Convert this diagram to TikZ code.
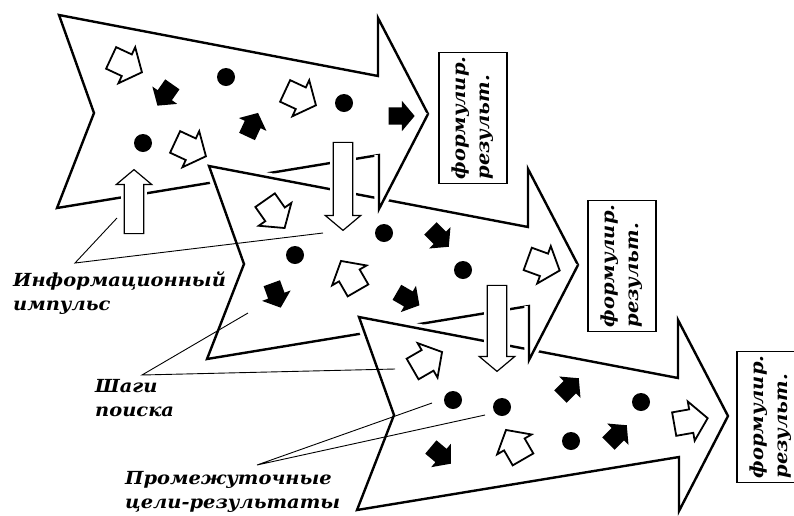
\documentclass[tikz,border=0pt]{standalone}
\usepackage{fontspec}
\setmainfont{DejaVu Serif}[FakeStretch=1.08]
\usetikzlibrary{shapes,arrows}

\tikzset{
  bigarrow/.style={draw=white, double=black, double distance=2.4pt, line width=3.5pt, fill=white},
  headedge/.style={draw=white, double=black, double distance=2.4pt, line width=3.5pt},
  flow/.pic={\draw[bigarrow] (59,15) -- (378,76) -- (378,18) -- (428,114) -- (379,209) -- (379,155) -- (57,208) -- (94,113) -- cycle;},
  stepw/.style={single arrow, draw, line width=1.8pt, fill=white, inner xsep=0pt, inner ysep=11pt, minimum height=34pt, single arrow head extend=8pt, single arrow tip angle=100},
  stepb/.style={single arrow, fill=black, inner xsep=0pt, inner ysep=8.5pt, minimum height=26pt, single arrow head extend=6.5pt, single arrow tip angle=100},
  goal/.style={circle, fill=black, inner sep=0pt, minimum size=18pt},
  impulse/.style={single arrow, draw=white, double=black, double distance=1.2pt, line width=2.5pt, fill=white, inner xsep=0pt, inner ysep=8.5pt, single arrow head extend=8pt, single arrow tip angle=100},
  result/.style={draw, line width=1.2pt, fill=white, rotate=90, align=left, minimum width=130pt, minimum height=68pt, inner sep=4pt, font=\fontsize{18}{24}\selectfont\bfseries\itshape},
  caption/.style={align=left, inner sep=0pt, anchor=north west, font=\fontsize{18}{24}\selectfont\bfseries\itshape},
  pointer/.style={line width=0.9pt}
}

\begin{document}
\begin{tikzpicture}[x=1pt, y=-1pt]
\useasboundingbox (0,0) rectangle (794,515);

\pic at (0,0) {flow};
\pic at (150,151) {flow};
\pic at (300,302) {flow};

\draw[headedge] (379,155) -- (379,209) -- (428,114);
\draw[headedge, shift={(150,151)}] (379,155) -- (379,209) -- (428,114);

\node[stepw, rotate=-25] (w1) at (122,63) {};
\node[stepb, rotate=-125] (b1) at (167,92) {};
\node[goal] (d1) at (226,77) {};
\node[stepw, rotate=-25] (w2) at (296,96) {};
\node[goal] (d2) at (344,103) {};
\node[stepb] (b2) at (398,116) {};
\node[goal] (d3) at (143,143) {};
\node[stepw, rotate=-25] (w3) at (186,147) {};
\node[stepb, rotate=65] (b3) at (251,128) {};

\node[stepw, rotate=-55] (w4) at (272,210) {};
\node[goal] (d4) at (295,255) {};
\node[goal] (d5) at (384,233) {};
\node[stepb, rotate=-45] (b4) at (437,235) {};
\node[goal] (d6) at (463,270) {};
\node[stepw, rotate=-20] (w5) at (539,263) {};
\node[stepw, rotate=120] (w6) at (352,280) {};
\node[stepb, rotate=-70] (b5) at (275,292) {};
\node[stepb, rotate=-30] (b6) at (405,297) {};

\node[stepw, rotate=30] (w7) at (423,363) {};
\node[goal] (d7) at (453,400) {};
\node[goal] (d8) at (502,407) {};
\node[stepb, rotate=45] (b7) at (567,390) {};
\node[goal] (d9) at (641,402) {};
\node[stepw, rotate=10] (w8) at (686,422) {};
\node[stepb, rotate=-40] (b8) at (438,453) {};
\node[stepw, rotate=120] (w9) at (517,449) {};
\node[goal] (d10) at (571,441) {};
\node[stepb, rotate=45] (b9) at (615,437) {};

\node[impulse, minimum height=64pt, rotate=90, anchor=tip] (Up) at (134,168) {};
\node[impulse, minimum height=88pt, rotate=-90, anchor=tip] (DownA) at (343,232) {};
\node[impulse, minimum height=86pt, rotate=-90, anchor=tip] (DownB) at (497,373) {};

\node[result] (ResA) at (473,118) {формулир.\\результ.};
\node[result] (ResB) at (622,266) {формулир.\\результ.};
\node[result] (ResC) at (771,417) {формулир.\\результ.};

\node[caption] (InfoLabel) at (13,272) {Информационный\\импульс};
\node[caption] (StepLabel) at (95,379) {Шаги\\поиска};
\node[caption] (GoalLabel) at (125,471) {Промежуточные\\цели-результаты};

\coordinate (InfoTip) at (75,263);
\coordinate (InfoEndA) at (117,218);
\coordinate (InfoEndB) at (323,233);
\coordinate (StepTip) at (142,375);
\coordinate (StepEndA) at (248,313);
\coordinate (StepEndB) at (395,369);
\coordinate (GoalTip) at (257,465);
\coordinate (GoalEndA) at (432,403);
\coordinate (GoalEndB) at (485,415);

\draw[pointer] (InfoEndA) -- (InfoTip) -- (InfoEndB);
\draw[pointer] (StepEndA) -- (StepTip) -- (StepEndB);
\draw[pointer] (GoalEndA) -- (GoalTip) -- (GoalEndB);

\end{tikzpicture}
\end{document}
